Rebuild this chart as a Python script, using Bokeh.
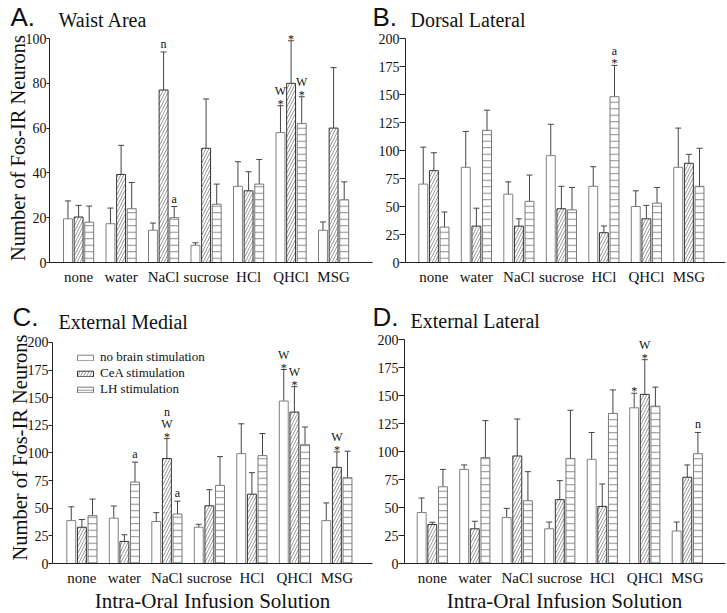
import math
from bokeh.plotting import figure
from bokeh.layouts import column, row
from bokeh.models import (ColumnDataSource, Whisker, TeeHead, Label, LabelSet,
                          FixedTicker, Range1d, Legend, LegendItem)
from bokeh.embed import file_html
from bokeh.resources import INLINE

solutions = ["none", "water", "NaCl", "sucrose", "HCl", "QHCl", "MSG"]
conditions = ["no brain stimulation", "CeA stimulation", "LH stimulation"]

# A. Waist Area
waist_none = [19.5, 17.3, 14.4, 7.7, 34.0, 58.0, 14.4]
waist_cea = [20.3, 39.3, 77.0, 51.0, 32.0, 80.0, 60.0]
waist_lh = [18.0, 24.0, 20.0, 26.0, 35.0, 62.0, 28.0]
waist_none_se = [8.0, 7.0, 3.2, 1.1, 11.0, 12.0, 3.7]
waist_cea_se = [5.2, 13.0, 17.0, 22.0, 8.5, 19.0, 27.0]
waist_lh_se = [7.2, 11.7, 5.0, 9.0, 11.0, 12.0, 8.0]
waist_marks = [("NaCl", 1, "n"), ("NaCl", 2, "a"), ("QHCl", 0, "W\n*"),
               ("QHCl", 1, "*"), ("QHCl", 2, "W\n*")]

# B. Dorsal Lateral
dorsal_none = [70.0, 85.0, 61.0, 95.4, 68.0, 50.0, 85.0]
dorsal_cea = [82.0, 32.5, 32.5, 48.0, 26.6, 39.0, 88.6]
dorsal_lh = [31.6, 118.0, 54.6, 47.0, 148.0, 53.0, 68.0]
dorsal_none_se = [33.0, 32.0, 11.0, 28.0, 17.5, 14.0, 35.0]
dorsal_cea_se = [16.0, 16.0, 6.5, 20.0, 6.0, 12.0, 8.0]
dorsal_lh_se = [13.5, 18.0, 23.5, 20.0, 28.0, 14.0, 34.0]
dorsal_marks = [("HCl", 2, "a\n*")]

# C. External Medial
medial_none = [38.8, 41.0, 38.0, 32.8, 99.4, 147.0, 38.8]
medial_cea = [32.8, 20.0, 95.0, 52.2, 62.7, 137.0, 87.0]
medial_lh = [43.3, 73.7, 44.8, 70.7, 97.6, 107.5, 77.6]
medial_none_se = [12.5, 11.0, 8.0, 2.7, 27.0, 28.5, 16.0]
medial_cea_se = [7.0, 6.0, 18.0, 14.6, 19.5, 23.0, 14.0]
medial_lh_se = [15.0, 18.0, 11.6, 26.0, 20.0, 16.0, 24.0]
medial_marks = [("water", 2, "a"), ("NaCl", 1, "n\nW\n*"), ("NaCl", 2, "a"),
                ("QHCl", 0, "W\n*"), ("QHCl", 1, "W\n*"), ("MSG", 1, "W\n*")]

# D. External Lateral
lateral_none = [45.5, 84.0, 41.0, 31.0, 93.0, 139.0, 29.0]
lateral_cea = [34.8, 31.0, 96.0, 57.0, 51.0, 151.0, 77.0]
lateral_lh = [68.5, 94.6, 56.0, 93.8, 134.0, 140.5, 98.0]
lateral_none_se = [13.0, 4.0, 8.2, 6.0, 24.0, 13.0, 8.0]
lateral_cea_se = [2.0, 6.7, 33.0, 17.0, 20.0, 31.0, 11.0]
lateral_lh_se = [15.5, 33.0, 26.0, 43.0, 21.0, 17.0, 19.0]
lateral_marks = [("QHCl", 0, "*"), ("QHCl", 1, "W\n*"), ("MSG", 2, "n")]

YLABEL = "Number of Fos-IR Neurons"
XLABEL = "Intra-Oral Infusion Solution"

SERIF = "Liberation Serif"
SANS = "Liberation Sans"
UNIT = 42.5          # px per solution group
BAR_STEP = 0.25
BAR_W = 0.21
FIRST = 0.02
AXIS_COLOR = "#222222"
ERR_COLOR = "#444444"
TEXT_COLOR = "#111111"

styles = [
    dict(fill_color="white", line_color="#808080", line_width=1),
    dict(fill_color="white", line_color="#333333", line_width=1,
         hatch_pattern="/", hatch_scale=6, hatch_color="#555555", hatch_weight=0.6),
    dict(fill_color="white", line_color="#777777", line_width=1,
         hatch_pattern="-", hatch_scale=6.5, hatch_color="#8a8a8a", hatch_weight=1),
]


def base_fig(W, H, x_range, y_range, **kw):
    p = figure(width=W, height=H, x_range=x_range, y_range=y_range,
               output_backend="svg", toolbar_location=None, **kw)
    p.outline_line_color = None
    p.background_fill_color = "white"
    p.border_fill_color = "white"
    return p


def make_strip(W, H, top, texts):
    """Text-only strip; data units equal pixels. Each text is given by its
    vertical centre (page y), since labels are centred on their anchor."""
    p = base_fig(W, H, Range1d(0, W), Range1d(0, H), x_axis_location=None,
                 y_axis_location=None, min_border_left=0, min_border_right=0,
                 min_border_top=0, min_border_bottom=0)
    p.grid.visible = False
    for t in texts:
        p.add_layout(Label(x=t["x"], y=top + H - t["y"], text=t["text"], text_font=t["font"],
                           text_font_size=t["size"], text_align=t.get("align", "left"),
                           text_baseline="middle", text_color=TEXT_COLOR))
    return p


def make_panel(vals, errs, marks, y_top, y_step, g, ylabel=False, legend=None):
    W, H, ox, oy = g["W"], g["H"], g["ox"], g["oy"]
    fl, fr, fb, tt = g["frame_left"], g["frame_right"], g["frame_bottom"], g["top_tick"]
    mbl, mbr, mbb = fl - ox, ox + W - fr, oy + H - fb
    x0 = FIRST - (g["first_bar"] - fl) / UNIT
    x1 = x0 + (fr - fl) / UNIT
    y_end = y_top * (fb - oy) / (fb - tt)

    p = base_fig(W, H, Range1d(x0, x1), Range1d(0, y_end),
                 min_border_left=mbl, min_border_right=mbr,
                 min_border_top=0, min_border_bottom=mbb)
    p.grid.visible = False

    renderers = []
    for s in range(3):
        xs = [i + FIRST + BAR_W / 2 + s * BAR_STEP for i in range(len(solutions))]
        r = p.vbar(x=xs, top=vals[s], bottom=0, width=BAR_W, **styles[s])
        renderers.append(r)
        src = ColumnDataSource(dict(
            x=xs,
            upper=[v + e for v, e in zip(vals[s], errs[s])],
            lower=[v - e for v, e in zip(vals[s], errs[s])]))
        p.add_layout(Whisker(source=src, base="x", upper="upper", lower="lower",
                             line_color=ERR_COLOR, line_width=1,
                             upper_head=TeeHead(size=6, line_color=ERR_COLOR, line_width=1),
                             lower_head=TeeHead(size=6, line_color=ERR_COLOR, line_width=1)))

    # significance marks, stacked upward from the top of the error bar
    mx, my, mt, mo = [], [], [], []
    for sol, s, txt in marks:
        i = solutions.index(sol)
        xc = i + FIRST + BAR_W / 2 + s * BAR_STEP
        top = vals[s][i] + errs[s][i]
        lines = txt.split("\n")[::-1]
        base = -2 if lines[0] == "*" else 4
        for k, ln in enumerate(lines):
            mx.append(xc)
            my.append(top)
            mt.append(ln)
            mo.append(base + 12.5 * k)
    msrc = ColumnDataSource(dict(x=mx, y=my, text=mt, yoff=mo))
    p.add_layout(LabelSet(source=msrc, x="x", y="y", text="text", y_offset="yoff",
                          text_align="center", text_baseline="alphabetic",
                          text_font=SERIF, text_font_size="12px", text_color=TEXT_COLOR))

    # axes
    p.xaxis.ticker = FixedTicker(ticks=[i + 0.375 for i in range(len(solutions))])
    p.xaxis.major_label_overrides = {i + 0.375: sol for i, sol in enumerate(solutions)}
    p.xaxis.major_tick_out = 0
    p.xaxis.major_tick_in = 0
    p.xaxis.minor_tick_out = 0
    p.xaxis.major_label_standoff = 6
    p.yaxis.ticker = FixedTicker(ticks=list(range(0, y_top + 1, y_step)))
    p.yaxis.bounds = (0, y_top)
    p.yaxis.major_tick_out = g["tick_out"]
    p.yaxis.major_tick_in = 0
    p.yaxis.minor_tick_out = 0
    p.yaxis.minor_tick_in = 0
    p.yaxis.major_label_standoff = 0
    for ax in (p.xaxis, p.yaxis):
        ax.axis_line_color = AXIS_COLOR
        ax.major_tick_line_color = AXIS_COLOR
        ax.major_label_text_font = SERIF
        ax.major_label_text_color = TEXT_COLOR
    p.xaxis.major_label_text_font_size = "15px"
    p.yaxis.major_label_text_font_size = "14px"
    if ylabel:
        p.yaxis.axis_label = YLABEL
        p.yaxis.axis_label_text_font = SERIF
        p.yaxis.axis_label_text_font_size = "20.5px"
        p.yaxis.axis_label_text_font_style = "normal"
        p.yaxis.axis_label_text_color = TEXT_COLOR
        p.yaxis.axis_label_standoff = -6

    if legend:
        items = [LegendItem(label=conditions[s], renderers=[renderers[s]]) for s in range(3)]
        leg = Legend(items=items, location=(legend[0] - fl, fb - legend[1]),
                     glyph_width=20, glyph_height=7, label_height=12, spacing=0,
                     padding=0, margin=0, label_standoff=5,
                     label_text_font=SERIF, label_text_font_size="13px",
                     label_text_line_height=0.9, label_text_color=TEXT_COLOR,
                     border_line_color=None, background_fill_alpha=0)
        p.add_layout(leg)
    return p


# ---- layout (page pixels from the picture's top-left) ----
TOTAL_W = 727
top_strip = make_strip(TOTAL_W, 33, 0, [
    dict(x=10, y=16, text="A.", font=SANS, size="26px"),
    dict(x=58, y=19, text="Waist Area", font=SERIF, size="20px"),
    dict(x=372, y=16, text="B.", font=SANS, size="26px"),
    dict(x=410, y=19, text="Dorsal Lateral", font=SERIF, size="20px"),
])
pA = make_panel([waist_none, waist_cea, waist_lh], [waist_none_se, waist_cea_se, waist_lh_se],
                waist_marks, 100, 20,
                dict(W=373, H=267, ox=0, oy=33, frame_left=49, frame_right=372,
                     frame_bottom=262, top_tick=38, first_bar=63, tick_out=3),
                ylabel=True)
pB = make_panel([dorsal_none, dorsal_cea, dorsal_lh], [dorsal_none_se, dorsal_cea_se, dorsal_lh_se],
                dorsal_marks, 200, 25,
                dict(W=354, H=267, ox=373, oy=33, frame_left=405, frame_right=725,
                     frame_bottom=262, top_tick=38, first_bar=418.3, tick_out=6))
mid_strip = make_strip(TOTAL_W, 31, 300, [
    dict(x=12, y=316, text="C.", font=SANS, size="26px"),
    dict(x=58, y=321, text="External Medial", font=SERIF, size="20px"),
    dict(x=372, y=316, text="D.", font=SANS, size="26px"),
    dict(x=410, y=320, text="External Lateral", font=SERIF, size="20px"),
])
pC = make_panel([medial_none, medial_cea, medial_lh], [medial_none_se, medial_cea_se, medial_lh_se],
                medial_marks, 200, 25,
                dict(W=373, H=259, ox=0, oy=331, frame_left=52, frame_right=372,
                     frame_bottom=564, top_tick=342, first_bar=66.3, tick_out=4),
                ylabel=True, legend=(75, 398))
pD = make_panel([lateral_none, lateral_cea, lateral_lh], [lateral_none_se, lateral_cea_se, lateral_lh_se],
                lateral_marks, 200, 25,
                dict(W=354, H=259, ox=373, oy=331, frame_left=404, frame_right=725,
                     frame_bottom=563, top_tick=339, first_bar=416.7, tick_out=6))
bottom_strip = make_strip(TOTAL_W, 23, 590, [
    dict(x=212, y=600, text=XLABEL, font=SERIF, size="21px", align="center"),
    dict(x=564, y=600, text=XLABEL, font=SERIF, size="21px", align="center"),
])

layout = column(top_strip, row(pA, pB), mid_strip, row(pC, pD), bottom_strip)
open("out.html", "w").write(file_html(layout, INLINE))
